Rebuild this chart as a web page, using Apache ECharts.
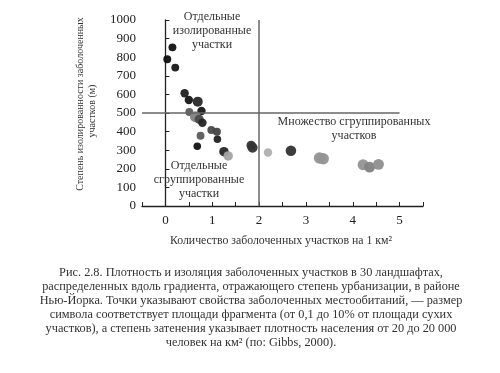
<!DOCTYPE html>
<html><head><meta charset="utf-8">
<script src="https://cdn.jsdelivr.net/npm/echarts@6/dist/echarts.min.js"></script>
<style>html,body{margin:0;padding:0;background:#fff}#c{width:500px;height:373px}</style>
</head><body><div id="c"></div>
<script>
// Density of wetland patches (per km²)
const patchDensity = [0.15,0.04,0.21,0.41,0.50,0.69,0.77,0.51,0.64,0.72,0.79,0.98,1.10,0.75,1.11,0.68,1.25,1.34,1.83,1.86,2.19,2.68,3.29,3.37,4.22,4.36,4.55];
// Isolation of wetland patches (m)
const isolation    = [853,789,744,606,570,561,511,505,480,466,448,409,399,378,359,321,292,269,326,314,288,297,258,254,222,209,224];
// Patch area, % of dry land (0.1–10)
const patchArea    = [0.2,0.2,0.2,0.3,0.3,1.0,0.3,0.2,2.0,0.5,0.3,0.2,0.2,0.2,0.15,0.15,0.7,0.7,0.6,1.2,0.3,1.5,3,3,2,2,2];
// Human population density (people per km², 20–20000)
const popDensity   = [20000,20000,15000,12000,18000,8000,16000,1000,200,2000,9000,2000,2500,1000,10000,20000,8000,50,5000,5000,32,5000,100,100,100,200,120];

const xTicks = [0,1,2,3,4,5];
const yTicks = [0,100,200,300,400,500,600,700,800,900,1000];

const serif = '"Liberation Serif","DejaVu Serif",serif';
const points = patchDensity.map((x,i)=>[x, isolation[i], patchArea[i], popDensity[i]]);

function sizeOf(a){ return 7 + 3*Math.log10(a/0.1); }
function colorOf(d){
  const t = Math.log10(d/20)/3;
  const g = Math.round(187 - t*170);
  return 'rgb('+g+','+g+','+g+')';
}

const chart = echarts.init(document.getElementById('c'));
chart.setOption({
  backgroundColor:'#fff',
  animation:false,
  grid:{left:142, right:77, top:20, bottom:167},
  xAxis:{
    type:'value', min:-0.5, max:5.5, interval:0.5,
    axisLine:{lineStyle:{color:'#222',width:1.3}},
    axisTick:{inside:true,length:4,lineStyle:{color:'#222'}},
    splitLine:{show:false},
    axisLabel:{margin:8,fontFamily:serif,fontSize:13,color:'#222',
      formatter:v=>xTicks.includes(v)?String(v):''}
  },
  yAxis:{
    type:'value', min:0, max:1000, interval:100,
    axisLine:{show:true,lineStyle:{color:'#222',width:1.3}},
    axisTick:{show:true,inside:true,length:4,lineStyle:{color:'#222'}},
    splitLine:{show:false},
    axisLabel:{margin:6,fontFamily:serif,fontSize:13,color:'#222',
      formatter:v=>yTicks.includes(v)?String(v):''}
  },
  series:[{
    type:'scatter',
    data:points,
    symbolSize:d=>sizeOf(d[2]),
    itemStyle:{color:p=>colorOf(p.data[3]),opacity:0.95},
    markLine:{
      silent:true, symbol:['none','none'], label:{show:false},
      lineStyle:{color:'#666',width:1.5,type:'solid'},
      data:[
        [{coord:[2,0]},{coord:[2,1000]}],
        [{coord:[-0.5,500]},{coord:[5,500]}]
      ]
    }
  }],
  graphic:[
    {type:'text',x:212,y:31,style:{text:'Отдельные\nизолированные\nучастки',font:'12px '+serif,fill:'#333',align:'center',verticalAlign:'middle',lineHeight:14}},
    {type:'text',x:199,y:180,style:{text:'Отдельные\nсгруппированные\nучастки',font:'12px '+serif,fill:'#333',align:'center',verticalAlign:'middle',lineHeight:14}},
    {type:'text',x:354,y:129,style:{text:'Множество сгруппированных\nучастков',font:'12px '+serif,fill:'#333',align:'center',verticalAlign:'middle',lineHeight:14}},
    {type:'text',x:281,y:241,style:{text:'Количество заболоченных участков на 1 км²',font:'11.8px '+serif,fill:'#333',align:'center',verticalAlign:'middle'}},
    {type:'text',x:80,y:104,rotation:Math.PI/2,style:{text:'Степень изолированности заболоченных',font:'10px '+serif,fill:'#333',align:'center',verticalAlign:'middle'}},
    {type:'text',x:92,y:111,rotation:Math.PI/2,style:{text:'участков (м)',font:'10px '+serif,fill:'#333',align:'center',verticalAlign:'middle'}},
    {type:'text',x:251,y:308,style:{
      text:'Рис. 2.8. Плотность и изоляция заболоченных участков в 30 ландшафтах,\nраспределенных вдоль градиента, отражающего степень урбанизации, в районе\nНью-Йорка. Точки указывают свойства заболоченных местообитаний, — размер\nсимвола соответствует площади фрагмента (от 0,1 до 10% от площади сухих\nучастков), а степень затенения указывает плотность населения от 20 до 20 000\nчеловек на км² (по: Gibbs, 2000).',
      font:'12.3px '+serif,fill:'#333',align:'center',verticalAlign:'middle',lineHeight:13.9}}
  ]
});
</script></body></html>
